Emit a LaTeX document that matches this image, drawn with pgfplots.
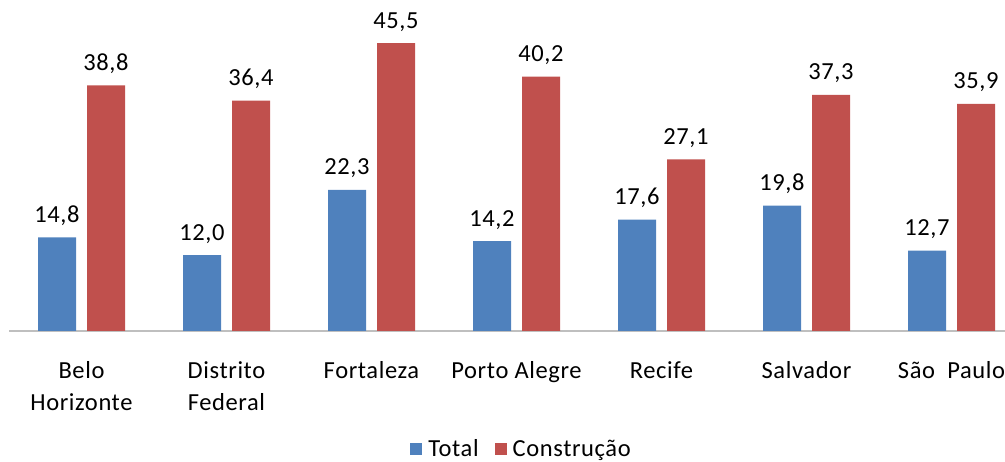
\documentclass[border=0pt]{standalone}
\usepackage{fontspec}
\setmainfont{Carlito}[LetterSpace=2.5]
\usepackage{pgfplots}
\pgfplotsset{compat=1.18}
\definecolor{totalblue}{HTML}{4F81BD}
\definecolor{constred}{HTML}{C0504D}
\definecolor{axgray}{HTML}{BFBFBF}

\begin{document}
\begin{tikzpicture}
\begin{axis}[
    scale only axis,
    width=996pt, height=331pt,
    xmin=-0.5, xmax=6.369, ymin=0, ymax=52.3,
    ybar=11pt, bar width=38pt,
    axis x line*=bottom, axis y line=none,
    x axis line style={-, draw=axgray, line width=2pt},
    xtick={0,...,6}, major tick length=0pt,
    xticklabels={Belo\\Horizonte, Distrito\\Federal, Fortaleza, Porto Alegre, Recife, Salvador, São\ \ Paulo},
    xticklabel style={align=center, anchor=north, inner sep=0pt, yshift=-30pt,
      font=\fontsize{24.5}{32}\selectfont},
    nodes near coords,
    nodes near coords style={anchor=base, inner sep=0pt, yshift=15pt,
      font=\fontsize{24.5}{28}\selectfont},
    /pgf/number format/.cd, use comma, fixed, fixed zerofill, precision=1,
      assume math mode=true,
    /pgfplots/.cd,
    legend columns=2,
    legend style={at={(0.5146,-0.356)}, anchor=center, draw=none, fill=none,
      font=\fontsize{24.5}{28}\selectfont,
      /tikz/every even column/.append style={column sep=14pt}},
    legend image code/.code={\fill[#1, draw=none] (0pt,-6pt) rectangle (12pt,6pt);
      \path (16pt,0pt);},
  ]
\addplot[fill=totalblue, draw=none] coordinates {
  (0,14.8) (1,12.0) (2,22.3) (3,14.2) (4,17.6) (5,19.8) (6,12.7)};
\addplot[fill=constred, draw=none] coordinates {
  (0,38.8) (1,36.4) (2,45.5) (3,40.2) (4,27.1) (5,37.3) (6,35.9)};
\legend{Total, Construção}
\end{axis}
\pgfresetboundingbox
\path ([xshift=-9pt,yshift=-131pt]current axis.south west) rectangle (current axis.north east);
\end{tikzpicture}
\end{document}
